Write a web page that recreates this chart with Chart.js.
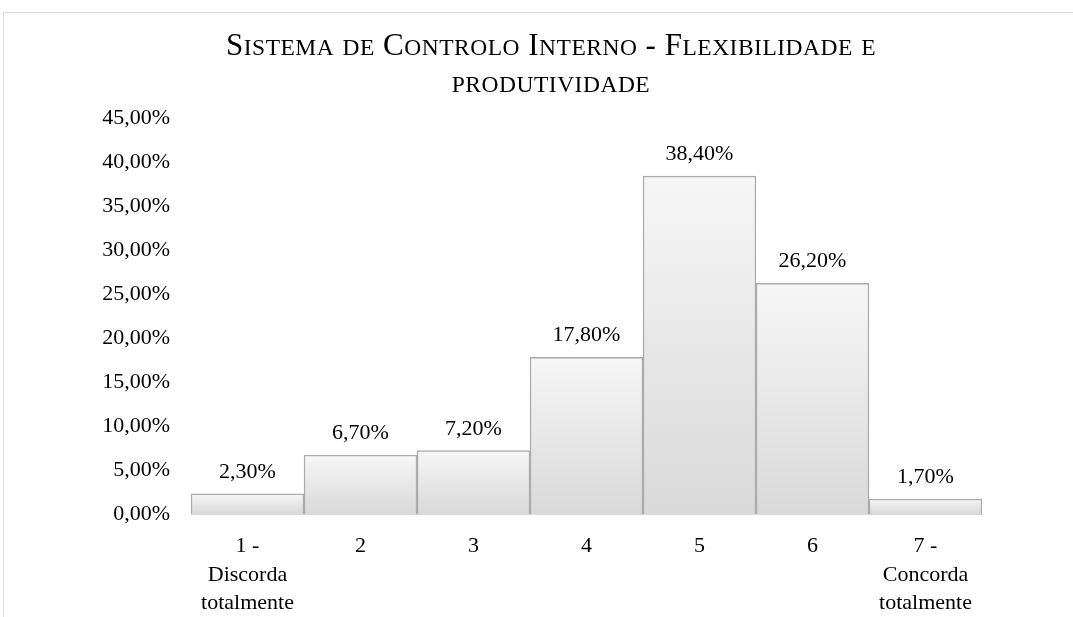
<!DOCTYPE html>
<html>
<head>
<meta charset="utf-8">
<script src="https://cdn.jsdelivr.net/npm/chart.js@4.4.1/dist/chart.umd.min.js"></script>
<style>
  html, body { margin: 0; padding: 0; background: #ffffff; }
  #wrap { width: 1073px; height: 617px; position: relative; }
</style>
</head>
<body>
<div id="wrap"><canvas id="chart" width="1073" height="617"></canvas></div>
<script>
// Survey answers on a 1–7 agreement scale (share of respondents, %)
const categories = [
  ['1 -', 'Discorda', 'totalmente'],
  '2', '3', '4', '5', '6',
  ['7 -', 'Concorda', 'totalmente']
];
const shares = [2.3, 6.7, 7.2, 17.8, 38.4, 26.2, 1.7];
const titleLines = ['Sistema de Controlo Interno - Flexibilidade e', 'produtividade'];
const yMin = 0, yMax = 45, yStep = 5;

const SERIF = "'Liberation Serif', 'Times New Roman', serif";
const fmtPct = v => v.toFixed(2).replace('.', ',') + '%';

// Vertical grey-to-white gradient, one per bar
function barGradient(ctx) {
  const chart = ctx.chart;
  const area = chart.chartArea;
  if (!area || ctx.type !== 'data') return '#e8e8e8';
  const y = chart.scales.y;
  const top = y.getPixelForValue(ctx.raw);
  const bottom = y.getPixelForValue(0);
  if (!isFinite(top) || !isFinite(bottom) || top === bottom) return '#e8e8e8';
  const g = chart.ctx.createLinearGradient(0, top, 0, bottom);
  g.addColorStop(0, '#f6f6f6');
  g.addColorStop(1, '#d9d9d9');
  return g;
}

// Thin frame around the whole chart
const framePlugin = {
  id: 'frame',
  beforeDraw(chart) {
    const c = chart.ctx;
    c.save();
    c.strokeStyle = '#d9d9d9';
    c.lineWidth = 1;
    c.strokeRect(3.5, 12.5, chart.width + 20, chart.height + 20);
    c.restore();
  }
};

// Title in small capitals: capitals at full size, lower-case letters as smaller capitals
const smallCapsTitle = {
  id: 'smallCapsTitle',
  afterDraw(chart) {
    const c = chart.ctx;
    const capSize = 31, smallSize = 23.5;
    const centerX = 551;
    const baselines = [55, 92];
    c.save();
    c.fillStyle = '#000000';
    c.textAlign = 'left';
    c.textBaseline = 'alphabetic';
    if ('letterSpacing' in c) c.letterSpacing = '0.5px';
    titleLines.forEach((line, i) => {
      const runs = [];
      for (const ch of line) {
        const up = ch.toUpperCase();
        const size = (ch !== up) ? smallSize : capSize;
        const last = runs[runs.length - 1];
        if (last && last.size === size) last.text += up;
        else runs.push({ size, text: up });
      }
      let total = 0;
      runs.forEach(r => {
        c.font = r.size + 'px ' + SERIF;
        r.w = c.measureText(r.text).width;
        total += r.w;
      });
      let x = centerX - total / 2;
      runs.forEach(r => {
        c.font = r.size + 'px ' + SERIF;
        c.fillText(r.text, x, baselines[i]);
        x += r.w;
      });
    });
    c.restore();
  }
};

// Value labels above each bar
const valueLabels = {
  id: 'valueLabels',
  afterDatasetsDraw(chart) {
    const c = chart.ctx;
    const meta = chart.getDatasetMeta(0);
    c.save();
    c.font = "22px " + SERIF;
    c.fillStyle = '#000000';
    c.textAlign = 'center';
    c.textBaseline = 'alphabetic';
    meta.data.forEach((bar, i) => {
      c.fillText(fmtPct(shares[i]), bar.x, bar.y - 16);
    });
    c.restore();
  }
};

new Chart(document.getElementById('chart'), {
  type: 'bar',
  data: {
    labels: categories,
    datasets: [{
      data: shares,
      backgroundColor: barGradient,
      borderColor: '#ababab',
      borderWidth: 1.5,
      categoryPercentage: 1,
      barPercentage: 1
    }]
  },
  options: {
    responsive: false,
    animation: false,
    devicePixelRatio: 1,
    layout: { padding: { left: 0, right: 91, top: 118, bottom: 0 } },
    plugins: {
      legend: { display: false },
      tooltip: { enabled: false },
      title: { display: false }
    },
    scales: {
      x: {
        grid: { display: false, drawTicks: false },
        border: { display: true, color: '#d9d9d9', width: 1 },
        ticks: {
          color: '#000000',
          font: { family: SERIF, size: 22, lineHeight: 1.3 },
          padding: 18,
          maxRotation: 0,
          autoSkip: false
        },
        afterFit(scale) { scale.height = 103; }
      },
      y: {
        min: yMin,
        max: yMax,
        grid: { display: false, drawTicks: false },
        border: { display: false },
        ticks: {
          stepSize: yStep,
          color: '#000000',
          font: { family: SERIF, size: 22 },
          padding: 21,
          callback: v => fmtPct(v)
        },
        afterFit(scale) { scale.width = 191; }
      }
    }
  },
  plugins: [framePlugin, smallCapsTitle, valueLabels]
});
</script>
</body>
</html>
